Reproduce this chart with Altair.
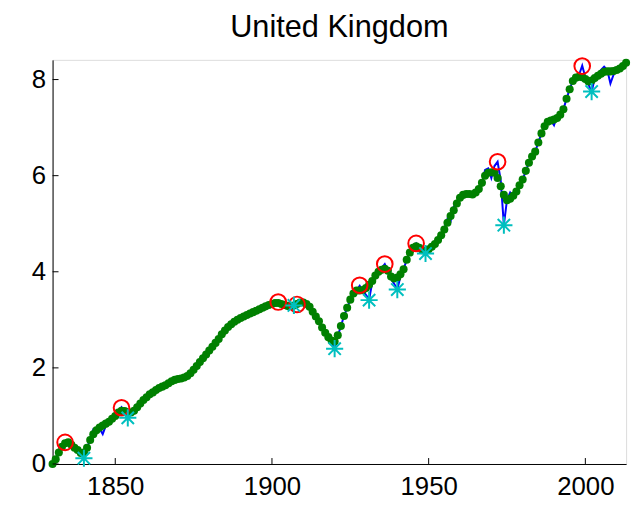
import altair as alt
import pandas as pd

# ---------------- data ----------------
years = list(range(1830, 2014))

smoothed = [
    0.00, 0.10, 0.24, 0.36, 0.43, 0.45, 0.40, 0.34, 0.29, 0.23,   # 1830s
    0.24, 0.34, 0.50, 0.62, 0.70, 0.76, 0.80, 0.84, 0.88, 0.94,   # 1840s
    1.00, 1.07, 1.11, 1.10, 1.07, 1.07, 1.11, 1.18, 1.26, 1.33,   # 1850s
    1.39, 1.45, 1.49, 1.54, 1.58, 1.61, 1.64, 1.68, 1.72, 1.75,   # 1860s
    1.77, 1.78, 1.80, 1.83, 1.89, 1.96, 2.04, 2.12, 2.20, 2.28,   # 1870s
    2.36, 2.44, 2.52, 2.60, 2.70, 2.78, 2.85, 2.91, 2.96, 3.00,   # 1880s
    3.04, 3.07, 3.10, 3.13, 3.16, 3.19, 3.22, 3.25, 3.28, 3.31,   # 1890s
    3.33, 3.35, 3.35, 3.33, 3.31, 3.29, 3.29, 3.30, 3.33, 3.36,   # 1900s
    3.36, 3.33, 3.27, 3.17, 3.07, 2.97, 2.84, 2.73, 2.64, 2.57,   # 1910s
    2.55, 2.68, 2.87, 3.08, 3.25, 3.42, 3.55, 3.61, 3.61, 3.62,   # 1920s
    3.66, 3.73, 3.81, 3.92, 4.00, 4.04, 4.06, 4.02, 3.90, 3.86,   # 1930s
    3.88, 3.95, 4.05, 4.25, 4.40, 4.50, 4.53, 4.50, 4.45, 4.43,   # 1940s
    4.47, 4.52, 4.58, 4.66, 4.76, 4.88, 5.02, 5.16, 5.28, 5.42,   # 1950s
    5.54, 5.60, 5.62, 5.62, 5.61, 5.65, 5.72, 5.85, 6.00, 6.06,   # 1960s
    6.07, 6.06, 5.95, 5.78, 5.60, 5.49, 5.52, 5.58, 5.67, 5.80,   # 1970s
    5.92, 6.10, 6.27, 6.40, 6.50, 6.69, 6.88, 7.03, 7.12, 7.15,   # 1980s
    7.17, 7.20, 7.27, 7.38, 7.60, 7.80, 7.97, 8.04, 8.06, 8.05,   # 1990s
    8.01, 7.96, 7.98, 8.03, 8.08, 8.12, 8.16, 8.17, 8.17, 8.18,   # 2000s
    8.20, 8.23, 8.28, 8.35,                                       # 2010s
]

raw = [
    0.00, 0.12, 0.25, 0.38, 0.46, 0.42, 0.38, 0.33, 0.27, 0.20,   # 1830s
    0.12, 0.30, 0.55, 0.72, 0.66, 0.74, 0.62, 0.80, 0.88, 0.94,   # 1840s
    1.00, 1.08, 1.18, 1.08, 0.96, 1.04, 1.12, 1.18, 1.26, 1.33,   # 1850s
    1.39, 1.45, 1.49, 1.54, 1.58, 1.61, 1.64, 1.68, 1.72, 1.75,   # 1860s
    1.77, 1.78, 1.80, 1.83, 1.89, 1.96, 2.04, 2.12, 2.20, 2.28,   # 1870s
    2.36, 2.44, 2.52, 2.60, 2.70, 2.78, 2.85, 2.91, 2.96, 3.00,   # 1880s
    3.04, 3.07, 3.10, 3.13, 3.16, 3.19, 3.22, 3.25, 3.28, 3.31,   # 1890s
    3.33, 3.35, 3.37, 3.33, 3.31, 3.30, 3.31, 3.30, 3.32, 3.36,   # 1900s
    3.36, 3.33, 3.27, 3.17, 3.07, 2.97, 2.84, 2.73, 2.62, 2.52,   # 1910s
    2.40, 2.66, 2.87, 3.08, 3.25, 3.42, 3.55, 3.62, 3.71, 3.60,   # 1920s
    3.52, 3.42, 3.78, 3.92, 4.02, 4.08, 4.16, 4.02, 3.85, 3.75,   # 1930s
    3.63, 3.90, 4.05, 4.25, 4.40, 4.52, 4.59, 4.48, 4.42, 4.38,   # 1940s
    4.47, 4.52, 4.58, 4.66, 4.76, 4.90, 5.10, 5.05, 5.35, 5.45,   # 1950s
    5.54, 5.60, 5.62, 5.62, 5.61, 5.65, 5.72, 5.85, 6.12, 6.15,   # 1960s
    5.95, 6.20, 6.29, 5.90, 4.97, 5.50, 5.65, 5.55, 5.67, 5.80,   # 1970s
    5.92, 6.10, 6.27, 6.40, 6.50, 6.69, 6.88, 7.03, 7.12, 7.15,   # 1980s
    7.05, 7.25, 7.27, 7.38, 7.60, 7.80, 7.97, 8.04, 8.10, 8.29,   # 1990s
    8.05, 7.90, 7.74, 8.03, 8.12, 8.20, 8.27, 8.20, 7.92, 8.10,   # 2000s
    8.18, 8.23, 8.28, 8.35,                                       # 2010s
]

peak_years = [1834, 1852, 1902, 1908, 1928, 1936, 1946, 1972, 1999]
peak_values = [0.45, 1.17, 3.37, 3.32, 3.72, 4.16, 4.59, 6.29, 8.28]

trough_years = [1840, 1854, 1907, 1920, 1931, 1940, 1949, 1974, 2002]
trough_values = [0.12, 0.96, 3.30, 2.40, 3.41, 3.63, 4.38, 4.97, 7.75]

x_ticks = [1850, 1900, 1950, 2000]
y_ticks = [0, 2, 4, 6, 8]

# ---------------- tables ----------------
series = pd.DataFrame({"year": years, "raw": raw, "smoothed": smoothed})
peaks = pd.DataFrame({"year": peak_years, "value": peak_values})
troughs = pd.DataFrame({"year": trough_years, "value": trough_values})
xt = pd.DataFrame({"year": x_ticks})
yt = pd.DataFrame({"value": y_ticks})

# ---------------- styling ----------------
FONT = "Liberation Sans"
W, H = 579, 408
TICK = 6
LABEL_SIZE = 26

xs = alt.Scale(domain=[1830, 2013], nice=False, zero=False)
ys = alt.Scale(domain=[0, 8.41], nice=False, zero=False)

x_axis = alt.Axis(values=x_ticks, format="d", ticks=False, grid=False,
                  domainColor="black", domainWidth=1, labelFont=FONT,
                  labelFontSize=LABEL_SIZE, labelColor="black",
                  labelPadding=10, title=None, labelFlush=False)
y_axis = alt.Axis(values=y_ticks, format="d", ticks=False, grid=False,
                  domainColor="black", domainWidth=1, labelFont=FONT,
                  labelFontSize=LABEL_SIZE, labelColor="black",
                  labelPadding=7, title=None, labelFlush=False)


def X(field="year"):
    return alt.X(f"{field}:Q", scale=xs, axis=x_axis)


def Y(field):
    return alt.Y(f"{field}:Q", scale=ys, axis=y_axis)


ASTERISK = ("M-1,0L1,0M0,-1L0,1"
            "M-0.72,-0.72L0.72,0.72M-0.72,0.72L0.72,-0.72")

raw_line = alt.Chart(series).mark_line(
    color="#0000FF", strokeWidth=2
).encode(x=X(), y=Y("raw"))

smooth_dots = alt.Chart(series).mark_circle(
    color="#008000", size=66, opacity=1
).encode(x=X(), y=Y("smoothed"))

peak_marks = alt.Chart(peaks).mark_point(
    shape="circle", filled=False, stroke="#FF0000", strokeWidth=2,
    size=250, opacity=1
).encode(x=X(), y=Y("value"))

trough_marks = alt.Chart(troughs).mark_point(
    shape=ASTERISK, filled=False, stroke="#00BFBF", strokeWidth=2,
    size=300, opacity=1
).encode(x=X(), y=Y("value"))

x_tick_marks = alt.Chart(xt).mark_rule(color="black", strokeWidth=1).encode(
    x=X(), y=alt.value(H), y2=alt.value(H - TICK)
)
y_tick_marks = alt.Chart(yt).mark_rule(color="black", strokeWidth=1).encode(
    y=Y("value"), x=alt.value(0), x2=alt.value(TICK)
)

chart = alt.layer(
    raw_line, smooth_dots, peak_marks, trough_marks, x_tick_marks, y_tick_marks
).properties(
    width=W,
    height=H,
    padding={"left": 45, "top": 50, "right": 10, "bottom": 34},
    autosize=alt.AutoSizeParams(type="none"),
    title=alt.Title("United Kingdom", font=FONT, fontSize=31,
                    fontWeight="normal", color="black", anchor="middle",
                    offset=10),
).configure_view(strokeWidth=0, stroke="transparent").configure(
    background="white"
)

chart.save("out.html", embed_options={"renderer": "svg", "actions": False})
